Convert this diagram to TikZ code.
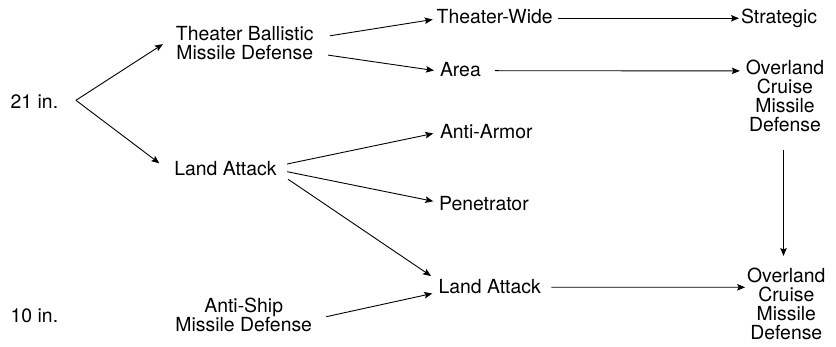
\documentclass[tikz,border=0pt]{standalone}
\usepackage{fontspec}
\setmainfont{TeX Gyre Heros}
\usetikzlibrary{calc,arrows.meta}
\tikzset{
  lbl/.style={inner sep=0pt, outer sep=0pt, font=\fontsize{19.4pt}{19pt}\selectfont},
  stack/.style={lbl, align=center, anchor=north},
  link/.style={line width=0.9pt, -{Stealth[length=8pt,width=6.5pt,inset=1.5pt]}}
}
\begin{document}
\begin{tikzpicture}[x=1pt,y=-1pt]
\useasboundingbox (0,0) rectangle (836,347);

% sizes of the two missiles
\node[lbl, anchor=base west] (in21) at (10.7,108.3) {21 in.};
\node[lbl, anchor=base west] (in10) at (10.7,322.3) {10 in.};

% first-level missions
\node[stack] (tbmd) at (244.8,26.1) {Theater Ballistic\\Missile Defense};
\node[lbl, anchor=base] (la1) at (225.5,176) {Land Attack};
\node[stack] (asmd) at (243.7,297.9) {Anti-Ship\\Missile Defense};

% second-level variants
\node[lbl, anchor=base west] (tw) at (436.7,24) {Theater-Wide};
\node[lbl, anchor=base west] (area) at (440,76.7) {Area};
\node[lbl, anchor=base west] (aa) at (440,139) {Anti-Armor};
\node[lbl, anchor=base west] (pen) at (439.2,210.7) {Penetrator};
\node[lbl, anchor=base west] (la2) at (438.6,293.3) {Land Attack};

% final roles
\node[lbl, anchor=base west] (strat) at (741,24) {Strategic};
\node[stack] (ocmd1) at (785,59.9) {Overland\\Cruise\\Missile\\Defense};
\node[stack] (ocmd2) at (786.3,267.9) {Overland\\Cruise\\Missile\\Defense};

% branches from the 21 in. missile
\draw[link] ($(in21.base east)+(17.8,-8)$) -- ($(tbmd.west)+(-13.1,1.3)$);
\draw[link] ($(in21.base east)+(17.8,-8)$) -- ($(la1.base west)+(-15,-12.7)$);

% ballistic missile defense branches
\draw[link] ($(tbmd.east)+(16.2,-7)$) -- ($(tw.base west)+(-4,-4.5)$);
\draw[link] ($(tbmd.east)+(14.5,12.3)$) -- ($(area.base west)+(-6,-6.2)$);
\draw[link] ($(tw.base east)+(5.1,-5.7)$) -- ($(strat.base west)+(-2,-5.7)$);
\draw[link] ($(area.base east)+(14,-6)$) -- ($(ocmd1.north west)+(-6,11)$);
\draw[link] ($(ocmd1.south)+(-1.5,18.3)$) -- ($(ocmd2.north)+(-2.8,-11.9)$);

% land attack branches
\draw[link] ($(la1.base east)+(10.5,-12)$) -- ($(aa.base west)+(-6.7,-5.5)$);
\draw[link] ($(la1.base east)+(10.5,-4.3)$) -- ($(pen.base west)+(-5.9,-9.4)$);
\draw[link] ($(la1.base east)+(11.5,3.3)$) -- ($(la2.base west)+(-7.6,-17.3)$);

% anti-ship missile defense and the lower land attack line
\draw[link] ($(asmd.east)+(14.3,1.9)$) -- ($(la2.base west)+(-6.3,0.2)$);
\draw[link] ($(la2.base east)+(10.6,-6)$) -- ($(ocmd2.north west)+(-2,19.4)$);
\end{tikzpicture}
\end{document}
